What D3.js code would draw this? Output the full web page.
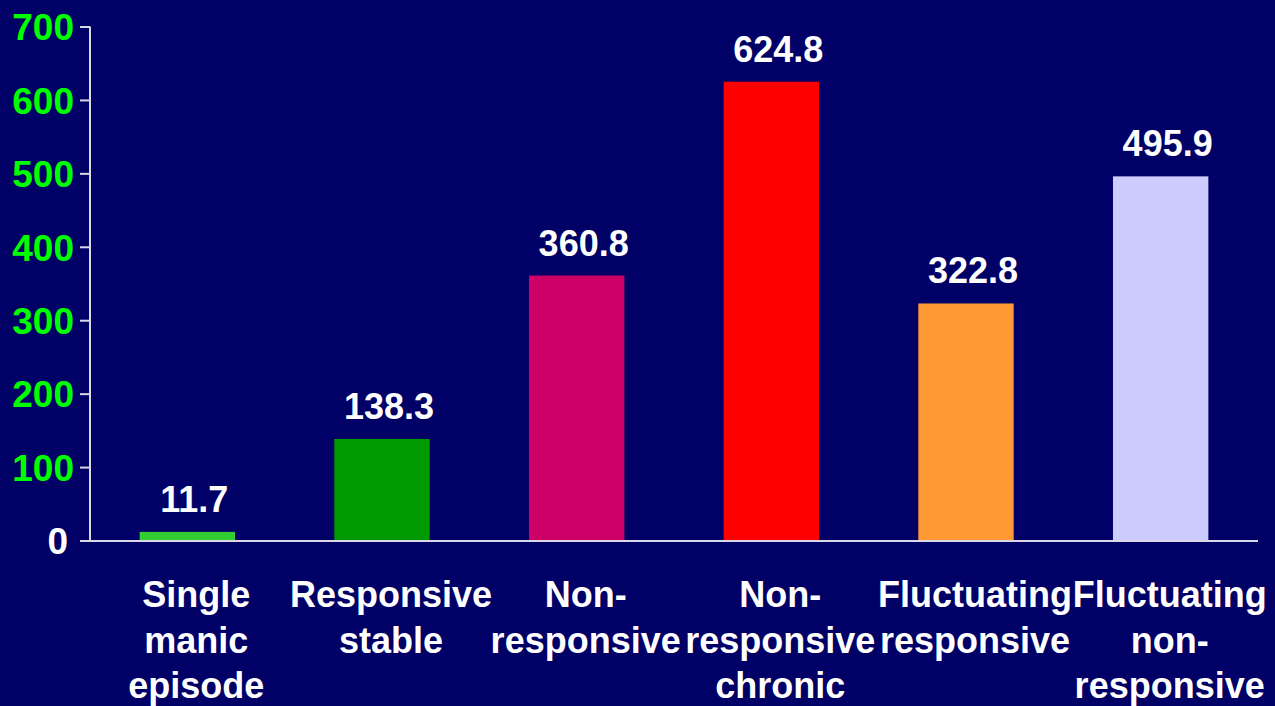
<!DOCTYPE html>
<html><head><meta charset="utf-8">
<script src="https://cdn.jsdelivr.net/npm/d3@7"></script>
<style>
html,body{margin:0;padding:0;background:#000066;}
svg{display:block;}
text{font-family:"Liberation Sans",Arial,sans-serif;font-weight:bold;}
</style></head>
<body><svg id="c" width="1275" height="706"></svg>
<script>
const categories = [
  ["Single","manic","episode"],
  ["Responsive","stable"],
  ["Non-","responsive"],
  ["Non-","responsive","chronic"],
  ["Fluctuating","responsive"],
  ["Fluctuating","non-","responsive"]
];
const values = [11.7, 138.3, 360.8, 624.8, 322.8, 495.9];
const barColors = ["#33cc33","#009900","#cc0066","#ff0000","#ff9933","#ccccff"];
const yTicks = [0,100,200,300,400,500,600,700];

const svg = d3.select("#c");
svg.append("rect").attr("width",1275).attr("height",706).attr("fill","#000066");

const x = d3.scaleBand().domain(d3.range(values.length)).range([90,1258])
  .paddingInner(0.51).paddingOuter(0.255);
const y = d3.scaleLinear().domain([0,700]).range([540.5,26.5]);

// bars
svg.selectAll("rect.bar").data(values).join("rect").attr("class","bar")
  .attr("x",(d,i)=>x(i)).attr("width",x.bandwidth())
  .attr("y",d=>y(d)).attr("height",d=>y(0)-y(d))
  .attr("fill",(d,i)=>barColors[i]);

// y axis
const yAxis = svg.append("g").attr("transform","translate(90,0)")
  .call(d3.axisLeft(y).tickValues(yTicks).tickSize(10).tickPadding(6).tickFormat(d3.format("d")));
yAxis.select(".domain").attr("stroke","#d8d8e8").attr("stroke-width",2).attr("d","M0,26.5V541.5");
yAxis.selectAll(".tick line").attr("stroke","#d8d8e8").attr("stroke-width",2);
yAxis.selectAll(".tick text").attr("fill",d=>d===0?"#ffffff":"#00ff00")
  .attr("font-size",37).attr("font-family","'Liberation Sans',Arial,sans-serif")
  .attr("font-weight","bold").attr("dy","0.36em")
  .attr("dx",d=>d===0?-6:0);

// x axis line
svg.append("line").attr("x1",89).attr("x2",1258).attr("y1",541).attr("y2",541)
  .attr("stroke","#d8d8e8").attr("stroke-width",2);

// value labels
svg.selectAll("text.val").data(values).join("text").attr("class","val")
  .attr("x",(d,i)=>x(i)+x.bandwidth()/2+7).attr("y",d=>y(d)-20)
  .attr("text-anchor","middle").attr("fill","#ffffff").attr("font-size",36)
  .text(d=>d3.format(".1f")(d));

// category labels
const cat = svg.selectAll("g.cat").data(categories).join("g").attr("class","cat")
  .attr("transform",(d,i)=>`translate(${x(i)+x.bandwidth()/2+9},607)`);
cat.selectAll("text").data(d=>d).join("text")
  .attr("x",0).attr("y",(d,j)=>j*45.5)
  .attr("text-anchor","middle").attr("fill","#ffffff").attr("font-size",36)
  .text(d=>d);
</script></body></html>
